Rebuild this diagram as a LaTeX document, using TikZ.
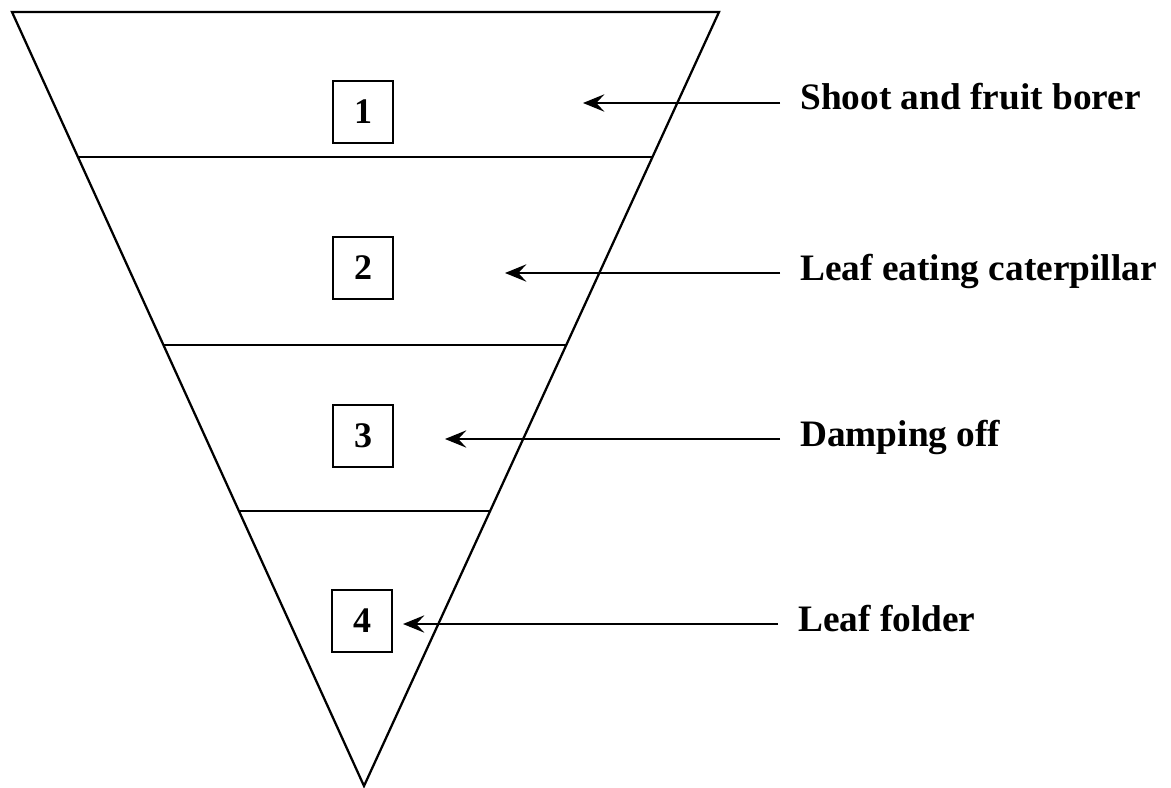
\documentclass[tikz,border=0pt]{standalone}
\usepackage{fontspec}
\setmainfont{Liberation Serif}
\usetikzlibrary{arrows.meta,calc}

\begin{document}
\begin{tikzpicture}[x=0.75pt,y=0.75pt,yscale=-1,xscale=1,
	numbox/.style={draw,line width=1.4pt,inner sep=0.75pt,minimum width=45pt,minimum height=46.5pt,font=\fontsize{27}{30}\selectfont\bfseries},
	pestlabel/.style={anchor=base west,inner ysep=0.75pt,inner xsep=15pt,font=\fontsize{28}{32}\selectfont\bfseries},
	arr/.style={line width=1.5pt,-{Stealth[length=16pt,width=13pt,inset=6pt]}}]
	\useasboundingbox (0,0) rectangle (1171,788);
	
	%Shape: Triangle
	\coordinate (tl) at (12,12);
	\coordinate (tr) at (719,12);
	\coordinate (ap) at (364,786);
	\draw [line width=1.7pt]  (tl) -- (tr) -- (ap) -- cycle ;
	%Straight Lines
	\draw [line width=1.7pt]  ($(tl)!{145/774}!(ap)$) -- ($(tr)!{145/774}!(ap)$) ;
	\draw [line width=1.7pt]  ($(tl)!{333/774}!(ap)$) -- ($(tr)!{333/774}!(ap)$) ;
	\draw [line width=1.7pt]  ($(tl)!{499/774}!(ap)$) -- ($(tr)!{499/774}!(ap)$) ;
	
	% Boxes
	\node [numbox] (b1) at (363,112) {1};
	\node [numbox] (b2) at (363,268) {2};
	\node [numbox] (b3) at (363,436) {3};
	\node [numbox] (b4) at (362,621) {4};
	
	% Arrow tips
	\coordinate (t1) at (583,103);
	\coordinate (t2) at (505,273);
	\coordinate (t3) at (445,439);
	\coordinate (t4) at (403,624);
	
	% Text Node
	\node [pestlabel] (l1) at (780,110) {Shoot and fruit borer};
	% Text Node
	\node [pestlabel] (l2) at (780,280) {Leaf eating caterpillar};
	% Text Node
	\node [pestlabel] (l3) at (780,446) {Damping off};
	% Text Node
	\node [pestlabel] (l4) at (778,631) {Leaf folder};
	
	% Arrows
	\draw [arr] (l1.west |- t1) -- (t1) ;
	\draw [arr] (l2.west |- t2) -- (t2) ;
	\draw [arr] (l3.west |- t3) -- (t3) ;
	\draw [arr] (l4.west |- t4) -- (t4) ;
	
\end{tikzpicture}
\end{document}
